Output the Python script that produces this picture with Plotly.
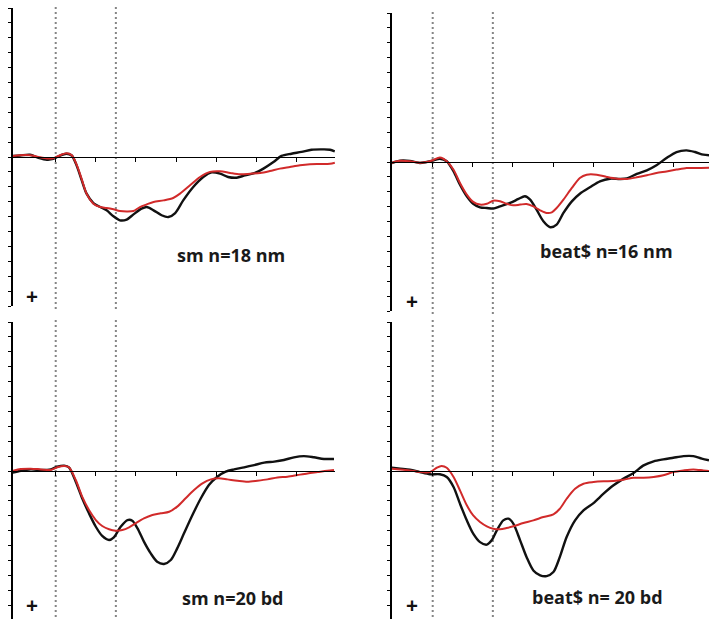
import plotly.graph_objects as go

# ---------------- data (time in ms, amplitude in µV, positive plotted downward) ----------------
p1_black_t = [-110, -89, -64, -43, -22, -6, 11, 27, 40, 52, 65, 77, 94, 111, 127, 144, 160, 177, 194, 214, 227,
              244, 264, 281, 298, 318, 343, 368, 389, 410, 430, 451, 472, 497, 518, 543, 563, 588, 613, 638, 667, 684, 696]
p1_black_v = [-0.07, -0.1, -0.15, 0.05, 0.18, 0.13, -0.1, -0.22, -0.1, 0.56, 1.57, 2.46, 3.09, 3.36, 3.58, 3.98, 4.25,
              4.2, 3.85, 3.47, 3.36, 3.58, 3.91, 4.03, 3.76, 2.91, 2.01, 1.34, 1.03, 1.12, 1.34, 1.39, 1.23, 1.07, 0.78,
              0.34, -0.07, -0.22, -0.34, -0.49, -0.51, -0.49, -0.38]
p1_red_t = [-110, -89, -64, -43, -22, -6, 11, 27, 40, 52, 65, 77, 94, 111, 127, 144, 160, 177, 194, 210, 227, 244, 269,
            293, 310, 335, 360, 385, 410, 435, 460, 485, 510, 534, 559, 584, 609, 634, 659, 684, 696]
p1_red_v = [-0.05, -0.12, -0.12, 0.0, 0.1, 0.08, -0.12, -0.25, -0.12, 0.5, 1.5, 2.46, 3.13, 3.36, 3.42, 3.51, 3.62, 3.65,
            3.62, 3.36, 3.18, 3.02, 2.91, 2.75, 2.46, 1.90, 1.34, 1.0, 0.96, 1.07, 1.16, 1.12, 1.07, 0.94, 0.78, 0.67,
            0.56, 0.49, 0.47, 0.45, 0.38]

p2_black_t = [-102, -81, -57, -32, -15, 0, 18, 35, 52, 68, 85, 101, 118, 135, 151, 168, 193, 214, 230, 243, 259, 276,
              293, 309, 326, 347, 367, 392, 417, 442, 467, 484, 509, 534, 558, 583, 608, 633, 654, 675, 689]
p2_black_v = [0.07, -0.09, -0.07, 0.07, 0.0, -0.09, -0.22, -0.05, 0.63, 1.52, 2.3, 2.8, 3.04, 3.09, 3.13, 2.98, 2.75,
              2.48, 2.3, 2.53, 3.2, 3.98, 4.38, 4.2, 3.42, 2.64, 2.13, 1.7, 1.3, 1.12, 1.14, 1.1, 0.8, 0.56, 0.22,
              -0.27, -0.67, -0.78, -0.67, -0.49, -0.45]
p2_red_t = [-102, -81, -57, -32, -15, 0, 18, 35, 52, 68, 85, 101, 118, 135, 151, 168, 184, 201, 218, 234, 251, 268, 284,
            297, 309, 326, 347, 367, 384, 409, 434, 459, 484, 509, 534, 558, 583, 608, 633, 658, 689]
p2_red_v = [0.05, -0.08, -0.05, 0.05, 0.0, -0.12, -0.3, -0.05, 0.52, 1.41, 2.19, 2.68, 2.86, 2.8, 2.6, 2.64, 2.8, 2.91,
            2.86, 2.82, 2.98, 3.24, 3.42, 3.38, 3.09, 2.53, 1.74, 1.07, 0.85, 0.85, 1.0, 1.12, 1.14, 1.03, 0.89, 0.74,
            0.63, 0.51, 0.4, 0.4, 0.38]

p3_black_t = [-108, -87, -62, -37, -12, 4, 21, 33, 50, 66, 83, 100, 116, 133, 145, 162, 179, 191, 204, 220, 237, 253,
              270, 287, 303, 320, 341, 362, 382, 403, 424, 445, 470, 495, 520, 545, 569, 594, 619, 644, 669, 694]
p3_black_v = [0.11, -0.02, -0.11, -0.07, -0.11, -0.29, -0.36, -0.25, 0.72, 1.83, 2.84, 3.74, 4.36, 4.63, 4.45, 3.74,
              3.29, 3.33, 3.85, 4.74, 5.53, 6.09, 6.24, 5.97, 5.19, 4.18, 2.95, 1.83, 0.94, 0.38, 0.04, -0.11, -0.25,
              -0.4, -0.56, -0.63, -0.74, -0.92, -1.0, -0.92, -0.81, -0.81]
p3_red_t = [-108, -87, -62, -37, -12, 4, 21, 33, 50, 66, 83, 100, 116, 133, 150, 166, 183, 199, 220, 241, 262, 283, 303,
            324, 345, 366, 387, 407, 428, 453, 478, 503, 528, 553, 578, 603, 628, 653, 677, 694]
p3_red_v = [0.0, -0.13, -0.16, -0.11, -0.07, -0.25, -0.34, -0.25, 0.6, 1.72, 2.62, 3.29, 3.69, 3.91, 4.0, 3.96, 3.78,
            3.51, 3.18, 2.95, 2.84, 2.73, 2.39, 1.83, 1.28, 0.83, 0.56, 0.49, 0.56, 0.65, 0.72, 0.65, 0.56, 0.43, 0.38,
            0.27, 0.16, 0.07, -0.02, -0.07]

p4_black_t = [-102, -81, -57, -32, -7, 18, 35, 52, 68, 85, 101, 118, 135, 147, 160, 176, 189, 201, 218, 234, 251, 268,
              284, 301, 317, 334, 355, 376, 401, 426, 451, 476, 501, 526, 551, 575, 600, 625, 650, 671, 689]
p4_black_v = [-0.22, -0.16, -0.09, 0.07, 0.22, 0.22, 0.4, 1.07, 2.19, 3.31, 4.2, 4.77, 4.94, 4.65, 3.98, 3.31, 3.2,
              3.53, 4.65, 5.77, 6.67, 7.0, 7.05, 6.78, 5.77, 4.43, 3.31, 2.64, 2.15, 1.52, 0.96, 0.51, 0.13, -0.38,
              -0.65, -0.78, -0.89, -1.0, -1.0, -0.83, -0.72]
p4_red_t = [-102, -81, -57, -32, -7, 10, 22, 35, 52, 68, 85, 101, 118, 135, 151, 168, 184, 201, 226, 251, 276, 301, 317,
            334, 355, 376, 401, 426, 451, 476, 501, 526, 551, 575, 600, 625, 650, 675, 689]
p4_red_v = [-0.16, -0.11, -0.04, 0.07, 0.07, -0.22, -0.34, -0.22, 0.4, 1.3, 2.3, 2.98, 3.42, 3.71, 3.87, 3.91, 3.83,
            3.71, 3.49, 3.31, 3.09, 2.91, 2.53, 1.86, 1.19, 0.85, 0.74, 0.69, 0.67, 0.58, 0.45, 0.45, 0.4, 0.29, 0.07,
            -0.04, -0.11, -0.04, 0.0]

panel_labels = ["sm n=18 nm", "beat$ n=16 nm", "sm n=20 bd", "beat$ n= 20 bd"]
marker_times = [0, 150]          # dotted vertical reference lines (ms)
x_ticks = [0, 100, 200, 300, 400, 500, 600]

series = [
    (p1_black_t, p1_black_v, p1_red_t, p1_red_v),
    (p2_black_t, p2_black_v, p2_red_t, p2_red_v),
    (p3_black_t, p3_black_v, p3_red_t, p3_red_v),
    (p4_black_t, p4_black_v, p4_red_t, p4_red_v),
]

# ---------------- layout geometry ----------------
W, H = 709, 619
panels = [
    dict(xd=[13 / W, 335 / W], xr=[-106.5, 696.5], yd=[1 - 306 / H, 1 - 8 / H], yr=[10, -10], zero=1 - 157 / H,
         label=(437, 6.55), plus=(-58, 9.3)),
    dict(xd=[392 / W, 1.0], xr=[-101.5, 689], yd=[1 - 311 / H, 1 - 13 / H], yr=[10, -10], zero=1 - 162 / H,
         label=(433, 5.95), plus=(-52, 9.3)),
    dict(xd=[13 / W, 335 / W], xr=[-106.5, 696.5], yd=[0.0, 1 - 322 / H], yr=[9.93, -10], zero=1 - 471 / H,
         label=(440, 8.55), plus=(-58, 9.0)),
    dict(xd=[392 / W, 1.0], xr=[-101.5, 689], yd=[0.0, 1 - 322 / H], yr=[9.93, -10], zero=1 - 471 / H,
         label=(410, 8.45), plus=(-52, 9.0)),
]

BLACK = "#111111"
RED = "#d12a2a"
FONT = "Open Sans"

fig = go.Figure()
layout = dict(width=W, height=H, margin=dict(l=0, r=0, t=0, b=0), paper_bgcolor="white",
              plot_bgcolor="white", showlegend=False, shapes=[], annotations=[])

for i, (p, (bt, bv, rt, rv)) in enumerate(zip(panels, series)):
    n = "" if i == 0 else str(i + 1)
    xa, ya = "x" + n, "y" + n
    fig.add_trace(go.Scatter(x=bt, y=bv, xaxis=xa, yaxis=ya, mode="lines",
                             line=dict(color=BLACK, width=2.4, shape="spline", smoothing=0.8), hoverinfo="skip"))
    fig.add_trace(go.Scatter(x=rt, y=rv, xaxis=xa, yaxis=ya, mode="lines",
                             line=dict(color=RED, width=2.0, shape="spline", smoothing=0.8), hoverinfo="skip"))
    layout["xaxis" + n] = dict(domain=p["xd"], range=p["xr"], anchor="free", position=p["zero"],
                               showline=True, linecolor="black", linewidth=1.3, ticks="outside",
                               tickvals=x_ticks, ticklen=4, tickwidth=1.3, tickcolor="black",
                               showticklabels=False, showgrid=False, zeroline=False, fixedrange=True)
    layout["yaxis" + n] = dict(domain=p["yd"], range=p["yr"], anchor=xa, showline=True, linecolor="black",
                               linewidth=1.6, ticks="outside", tick0=0, dtick=1, ticklen=3, tickwidth=1.2,
                               tickcolor="black", showticklabels=False, showgrid=False, zeroline=False,
                               fixedrange=True)
    for mt in marker_times:
        layout["shapes"].append(dict(type="line", xref=xa, yref=ya + " domain", x0=mt, x1=mt, y0=-0.01, y1=1.01,
                                     line=dict(color="#858585", width=2, dash="2px,3px"), layer="below"))
    layout["annotations"].append(dict(xref=xa, yref=ya, x=p["label"][0], y=p["label"][1], text=panel_labels[i],
                                      showarrow=False, font=dict(family=FONT, size=18, color="#1a1a1a",
                                                                 weight="bold")))
    layout["annotations"].append(dict(xref=xa, yref=ya, x=p["plus"][0], y=p["plus"][1], text="+",
                                      showarrow=False, font=dict(family=FONT, size=21, color="#111111",
                                                                 weight="bold")))

fig.update_layout(**layout)
fig.write_html("out.html")
